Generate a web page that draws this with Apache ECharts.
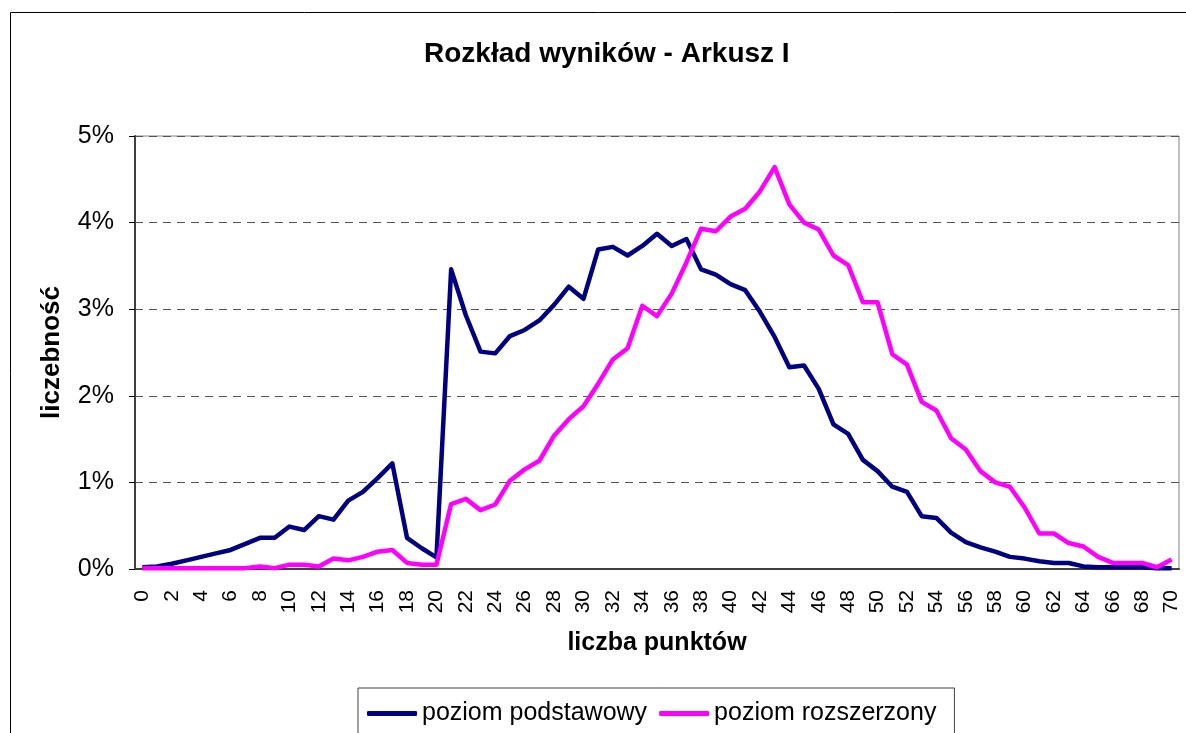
<!DOCTYPE html>
<html>
<head>
<meta charset="utf-8">
<script src="https://cdn.jsdelivr.net/npm/echarts@6/dist/echarts.min.js"></script>
<style>
  html, body { margin: 0; padding: 0; background: #fff; }
  #chart { width: 1186px; height: 733px; }
</style>
</head>
<body>
<div id="chart"></div>
<script>
// punkty 0..70
var categories = [];
for (var i = 0; i <= 70; i++) categories.push(String(i));

// w procentach
var podstawowy = [
  0.02, 0.03, 0.06, 0.10, 0.14, 0.18, 0.22, 0.29, 0.36, 0.36,
  0.49, 0.45, 0.61, 0.57, 0.79, 0.89, 1.05, 1.22, 0.36, 0.24,
  0.135, 3.46, 2.93, 2.51, 2.49, 2.69, 2.76, 2.87, 3.05, 3.26,
  3.12, 3.69, 3.72, 3.62, 3.73, 3.87, 3.73, 3.81, 3.46, 3.40,
  3.29, 3.22, 2.97, 2.68, 2.33, 2.35, 2.08, 1.67, 1.56, 1.26,
  1.13, 0.95, 0.89, 0.61, 0.59, 0.42, 0.31, 0.25, 0.20, 0.14,
  0.12, 0.09, 0.07, 0.07, 0.03, 0.02, 0.02, 0.02, 0.02, 0.01,
  0.01
];
var rozszerzony = [
  0.01, 0.01, 0.01, 0.01, 0.01, 0.01, 0.01, 0.01, 0.03, 0.01,
  0.05, 0.05, 0.03, 0.12, 0.10, 0.14, 0.20, 0.22, 0.07, 0.05,
  0.05, 0.75, 0.81, 0.68, 0.745, 1.02, 1.15, 1.25, 1.54, 1.73,
  1.88, 2.14, 2.42, 2.55, 3.04, 2.92, 3.18, 3.54, 3.93, 3.90,
  4.07, 4.16, 4.36, 4.64, 4.21, 4.00, 3.92, 3.62, 3.51, 3.08,
  3.08, 2.48, 2.36, 1.93, 1.83, 1.51, 1.38, 1.13, 1.00, 0.95,
  0.71, 0.41, 0.41, 0.30, 0.26, 0.14, 0.07, 0.07, 0.07, 0.02,
  0.11
];

var chart = echarts.init(document.getElementById('chart'));
var font = 'Liberation Sans, Arial, sans-serif';
var option = {
  animation: false,
  textStyle: { fontFamily: font },
  graphic: [{
    type: 'rect',
    shape: { x: 10.5, y: 12.5, width: 1300, height: 900 },
    style: { fill: 'none', stroke: '#000', lineWidth: 1 },
    silent: true
  }],
  title: {
    text: 'Rozkład wyników - Arkusz I',
    left: 419,
    top: 35,
    textStyle: { fontFamily: font, fontSize: 28, fontWeight: 'bold', color: '#000' }
  },
  legend: {
    left: 358,
    top: 688,
    padding: [13, 18, 16, 9],
    borderColor: '#404040',
    borderWidth: 1,
    itemGap: 12,
    itemWidth: 50,
    itemHeight: 5,
    icon: 'roundRect',
    textStyle: { fontFamily: font, fontSize: 25, color: '#000' },
    data: ['poziom podstawowy', 'poziom rozszerzony']
  },
  grid: {
    left: 135,
    right: 7,
    top: 136,
    bottom: 164,
    show: true,
    borderColor: '#808080',
    borderWidth: 1
  },
  xAxis: {
    type: 'category',
    data: categories,
    boundaryGap: true,
    name: 'liczba punktów',
    nameLocation: 'middle',
    nameGap: 62,
    nameTextStyle: { fontFamily: font, fontSize: 25, fontWeight: 'bold', color: '#000' },
    axisLine: { lineStyle: { color: '#404040', width: 2 } },
    axisTick: { interval: 0, length: 7, lineStyle: { color: '#000' } },
    axisLabel: {
      interval: 1,
      rotate: 90,
      fontSize: 21,
      color: '#000',
      margin: 21
    },
    splitLine: { show: false }
  },
  yAxis: {
    type: 'value',
    min: 0,
    max: 5,
    interval: 1,
    name: 'liczebność',
    nameLocation: 'middle',
    nameRotate: 90,
    nameGap: 70,
    nameTextStyle: { fontFamily: font, fontSize: 26, fontWeight: 'bold', color: '#000' },
    axisLine: { show: true, lineStyle: { color: '#404040', width: 2 } },
    axisTick: { show: true, length: 6, lineStyle: { color: '#000' } },
    axisLabel: {
      fontSize: 25,
      color: '#000',
      margin: 21,
      formatter: function (v) { return v + '%'; }
    },
    splitLine: { show: true, lineStyle: { color: '#555', type: [8, 6], width: 1 } }
  },
  series: [
    {
      name: 'poziom podstawowy',
      type: 'line',
      data: podstawowy,
      showSymbol: false,
      symbol: 'none',
      color: '#000080',
      lineStyle: { width: 4.5, color: '#000080', join: 'round' }
    },
    {
      name: 'poziom rozszerzony',
      type: 'line',
      data: rozszerzony,
      showSymbol: false,
      symbol: 'none',
      color: '#FF00FF',
      lineStyle: { width: 4.5, color: '#FF00FF', join: 'round' }
    }
  ]
};
chart.setOption(option);
</script>
</body>
</html>
